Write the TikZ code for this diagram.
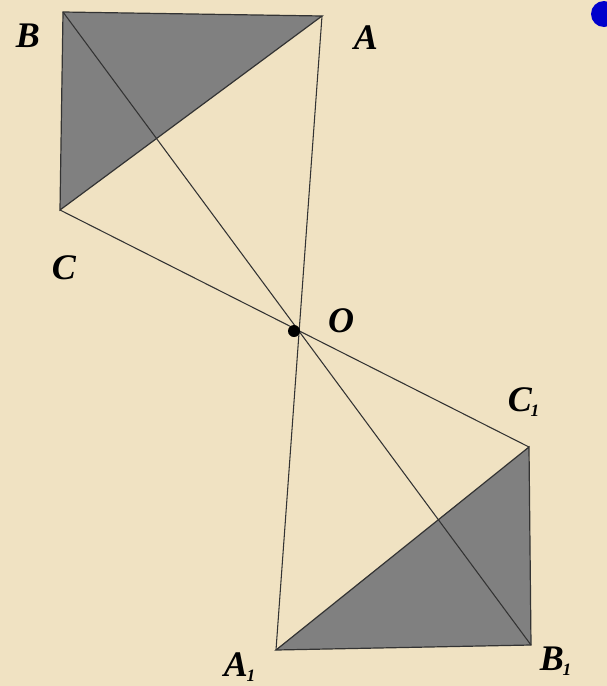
\documentclass[tikz,border=0pt]{standalone}
\usepackage{fontspec}
\setmainfont{Liberation Serif}
\begin{document}
\begin{tikzpicture}[x=0.75pt,y=-0.75pt,
  seg/.style={draw=black!80,line width=0.8pt},
  tri/.style={fill=black!50,draw=black!80,line width=0.9pt},
  lab/.style={font=\fontsize{27}{30}\selectfont\bfseries\itshape,text=black,inner sep=0pt}]
\fill[fill={rgb,255:red,240;green,226;blue,194}] (0,0) rectangle (607,686);
\useasboundingbox (0,0) rectangle (607,686);
\begin{scope}
\clip (0,0) rectangle (607,686);
\fill[blue!80!black] (604,14) circle (13);
\end{scope}
\coordinate (B) at (63,12);
\coordinate (A) at (322,16);
\coordinate (C) at (60,210);
\coordinate (O) at (294,331);
\coordinate (C1) at (529,447);
\coordinate (B1) at (531,645);
\coordinate (A1) at (276,650);
\path[tri] (B) -- (A) -- (C) -- cycle;
\path[tri] (A1) -- (B1) -- (C1) -- cycle;
\draw[seg] (A) -- (A1);
\draw[seg] (B) -- (B1);
\draw[seg] (C) -- (C1);
\fill (O) circle (6);
\node[lab] (lB) at (28,36) {B};
\node[lab] (lA) at (366,38) {A};
\node[lab] (lC) at (64,268) {C};
\node[lab] (lO) at (341,321) {O};
\node[lab] (lC1) at (524,402) {C\textsubscript{\kern-1pt\fontsize{13}{14}\selectfont 1}};
\node[lab] (lB1) at (556,661) {B\textsubscript{\kern-1pt\fontsize{13}{14}\selectfont 1}};
\node[lab] (lA1) at (240,667) {A\textsubscript{\kern-1pt\fontsize{13}{14}\selectfont 1}};
\end{tikzpicture}
\end{document}
